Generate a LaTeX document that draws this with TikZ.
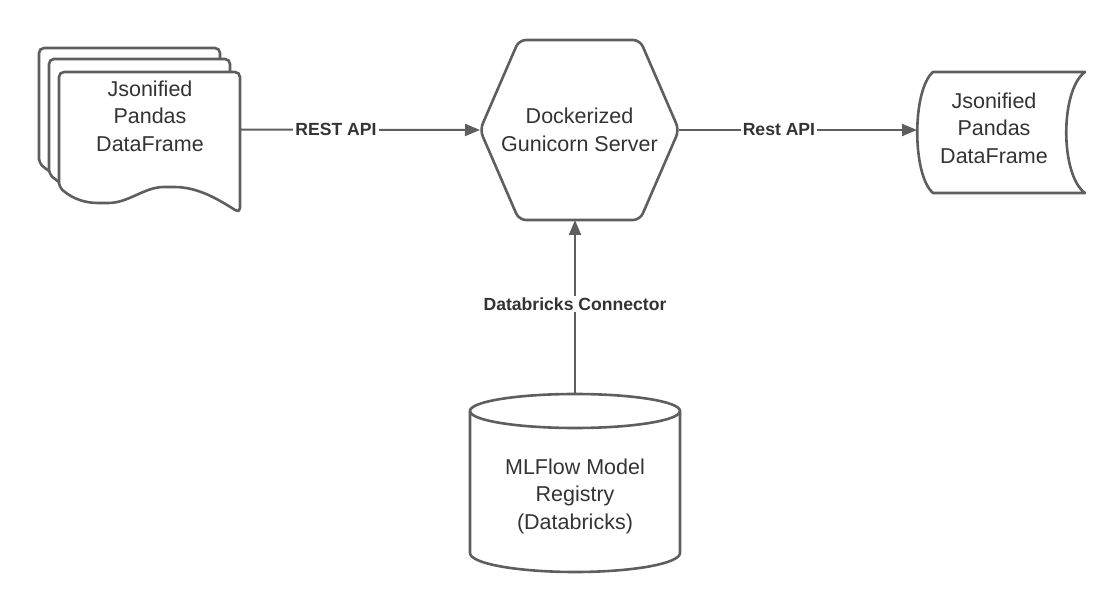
\documentclass[tikz,border=0pt]{standalone}
\usepackage{fontspec}
\setmainfont{Liberation Sans}
\usetikzlibrary{arrows.meta,positioning}

\definecolor{edgegray}{HTML}{5E5E5E}
\definecolor{textgray}{HTML}{333333}

\tikzset{
    shapeline/.style={draw=edgegray,line width=2.6pt,line join=round},
    sheet/.style={shapeline,fill=white,rounded corners=5pt},
    link/.style={draw=edgegray,line width=2pt,-{Triangle[length=15pt,width=12pt]}},
    linklabel/.style={fill=white,text=textgray,font=\bfseries\fontsize{17.6}{20}\selectfont,inner sep=2pt},
    boxtext/.style={text=textgray,font=\fontsize{21.5}{27.5}\selectfont,align=center,inner sep=0pt},
    anchorbox/.style={inner sep=0pt,outer sep=0pt}
}

\begin{document}
\begin{tikzpicture}[x=1pt,y=-1pt]
    \useasboundingbox (0,0) rectangle (1120,612);
    \foreach \dx/\dy in {-20/-24,-10/-13,0/0}{
        \begin{scope}[
            shift={(59+\dx,72+\dy)}
        ]
            \draw[sheet] (0,115) -- (0,0) -- (181,0) -- (181,141)
                .. controls (160,128) and (140,115) .. (110,115)
                .. controls (85,115) and (70,131) .. (44,131)
                .. controls (28,131) and (15,128) .. (0,115) -- cycle;
        \end{scope}
    }
    \node[anchorbox,minimum width=181pt,minimum height=115pt] (src) at (149.5,129.5) {};
    \node[boxtext] (srctext) at (150,116) {Jsonified\\Pandas\\DataFrame};

    \node[anchorbox,boxtext,minimum width=199pt,minimum height=180pt] (hex) at (579.5,130) {Dockerized\\Gunicorn Server};
    \draw[shapeline,rounded corners=7pt] (hex.west)
        -- ([xshift=39pt]hex.north west)
        -- ([xshift=-39pt]hex.north east)
        -- (hex.east)
        -- ([xshift=-39pt]hex.south east)
        -- ([xshift=39pt]hex.south west)
        -- cycle;

    \node[anchorbox,minimum width=168pt,minimum height=121pt] (dst) at (1001,132.5) {};
    \draw[shapeline] (933,72) -- (1085,72)
        .. controls (1060,90) and (1060,175) .. (1085,193)
        -- (933,193)
        .. controls (912,175) and (912,90) .. cycle;
    \node[boxtext] (dsttext) at (994,128) {Jsonified\\Pandas\\DataFrame};

    \node[anchorbox,minimum width=210pt,minimum height=177pt] (reg) at (575,483.5) {};
    \draw[shapeline] (470,411) -- (470,553)
        arc[start angle=180,end angle=0,x radius=105,y radius=19]
        -- (680,411);
    \draw[shapeline] (575,411) ellipse[x radius=105,y radius=17];
    \node[boxtext] (regtext) at (575,496) {MLFlow Model\\Registry\\(Databricks)};

    \draw[link] (src.east) -- node[linklabel,pos=0.4] (restlbl) {REST API} (hex.west);
    \draw[link] (hex.east) -- node[linklabel,pos=0.42] (restlbl2) {Rest API} (hex.east -| dst.west);
    \draw[link] (reg.north) -- node[linklabel,pos=0.52] (dbclbl) {Databricks Connector} (reg.north |- hex.south);
\end{tikzpicture}
\end{document}
